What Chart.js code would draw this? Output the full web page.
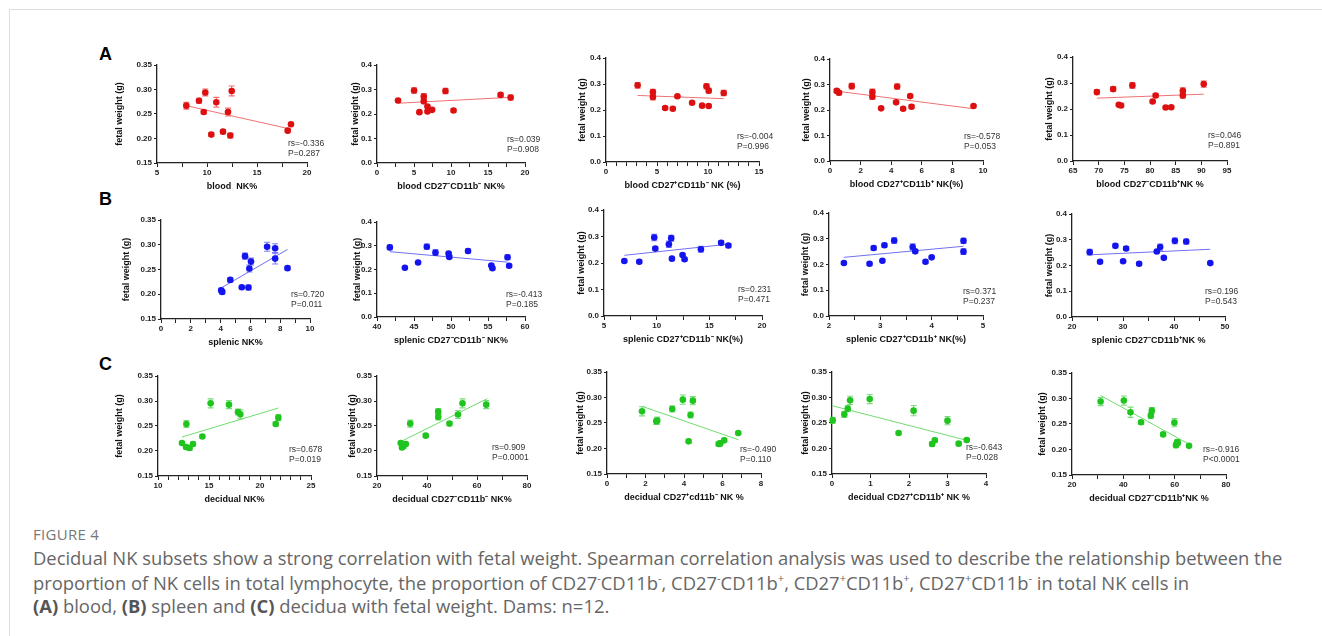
<!DOCTYPE html>
<html>
<head>
<meta charset="utf-8">
<script src="https://cdn.jsdelivr.net/npm/chart.js@4.4.1/dist/chart.umd.min.js"></script>
<style>
  html, body { margin: 0; padding: 0; background: #fff; }
  body { width: 1322px; height: 636px; position: relative; overflow: hidden; font-family: "Liberation Sans", Arial, sans-serif; }
  .rule-top  { position: absolute; left: 9px; top: 9px; right: 0; border-top: 1px solid #dedede; }
  .rule-left { position: absolute; left: 9px; top: 9px; bottom: 0; border-left: 1px solid #dedede; }
  canvas { position: absolute; }
  .letter { position: absolute; font: bold 18px "Liberation Sans", Arial, sans-serif; line-height: 18px; color: #000; }
  .stat { position: absolute; font: 8.5px "Liberation Sans", Arial, sans-serif; line-height: 10px; color: #333; white-space: nowrap; }
  .fig { position: absolute; left: 33px; font: 15px "Open Sans", sans-serif; letter-spacing: 0.3px; line-height: 20px; color: #777; }
  .cap { position: absolute; left: 33px; font: 18.4px "Open Sans", sans-serif; line-height: 24px; color: #666; white-space: nowrap; }
  .cap b { color: #555; }
  .cap sup { font-size: 0.6em; line-height: 0; vertical-align: 0.7em; }
</style>
</head>
<body>
<div class="rule-top"></div>
<div class="rule-left"></div>
<div class="letter" style="left:99px;top:45px">A</div>
<div class="letter" style="left:99px;top:190px">B</div>
<div class="letter" style="left:99px;top:355px">C</div>

<div class="fig" style="top:524px">FIGURE 4</div>
<div class="cap" style="top:546px">Decidual NK subsets show a strong correlation with fetal weight. Spearman correlation analysis was used to describe the relationship between the</div>
<div class="cap" style="top:571px">proportion of NK cells in total lymphocyte, the proportion of CD27<sup>-</sup>CD11b<sup>-</sup>, CD27<sup>-</sup>CD11b<sup>+</sup>, CD27<sup>+</sup>CD11b<sup>+</sup>, CD27<sup>+</sup>CD11b<sup>-</sup> in total NK cells in</div>
<div class="cap" style="top:594px"><b>(A)</b> blood, <b>(B)</b> spleen and <b>(C)</b> decidua with fetal weight. Dams: n=12.</div>

<script>
// ---- row A: blood ----
const xA1 = [7.93, 9.2, 9.67, 9.83, 10.43, 10.93, 11.6, 12.1, 12.33, 12.47, 18.07, 18.4]
const yA1 = [0.267, 0.277, 0.254, 0.294, 0.208, 0.274, 0.214, 0.254, 0.206, 0.297, 0.216, 0.229]
const eA1 = [0.007, 0.005, 0.004, 0.007, 0.004, 0.01, 0.004, 0.008, 0.005, 0.01, 0.003, 0.003]
const fitA1 = [[7.93, 0.267], [18.4, 0.219]]

const xA2 = [2.84, 5.01, 5.73, 6.32, 6.32, 6.82, 6.82, 7.45, 9.25, 10.34, 16.7, 18.06]
const yA2 = [0.255, 0.296, 0.2075, 0.271, 0.252, 0.2305, 0.21, 0.217, 0.294, 0.214, 0.278, 0.267]
const eA2 = [0.006, 0.011, 0.006, 0.012, 0.01, 0.004, 0.005, 0.004, 0.011, 0.006, 0.008, 0.01]
const fitA2 = [[2.84, 0.244], [18.06, 0.268]]

const xA3 = [3.1, 4.6, 4.6, 5.8, 6.55, 7.0, 8.44, 9.42, 9.85, 10.07, 10.07, 11.54]
const yA3 = [0.295, 0.269, 0.25, 0.2077, 0.205, 0.2526, 0.228, 0.2167, 0.291, 0.2744, 0.2154, 0.2654]
const eA3 = [0.011, 0.011, 0.011, 0.005, 0.005, 0.004, 0.004, 0.004, 0.01, 0.009, 0.006, 0.01]
const fitA3 = [[3.1, 0.256], [11.54, 0.2436]]

const xA4 = [0.44, 0.59, 1.42, 2.77, 2.77, 3.34, 4.32, 4.39, 4.78, 5.24, 5.33, 9.38]
const yA4 = [0.275, 0.2675, 0.2935, 0.27, 0.252, 0.2065, 0.23, 0.292, 0.205, 0.2545, 0.213, 0.2155]
const eA4 = [0.007, 0.008, 0.011, 0.012, 0.011, 0.005, 0.005, 0.01, 0.006, 0.006, 0.007, 0.004]
const fitA4 = [[0.44, 0.274], [9.38, 0.205]]

const xA5 = [69.65, 72.82, 73.92, 74.37, 76.57, 80.51, 81.1, 83.04, 84.14, 86.4, 86.4, 90.47]
const yA5 = [0.265, 0.2765, 0.216, 0.2135, 0.2907, 0.229, 0.252, 0.2058, 0.207, 0.27, 0.252, 0.2958]
const eA5 = [0.01, 0.009, 0.004, 0.006, 0.011, 0.005, 0.007, 0.005, 0.005, 0.012, 0.01, 0.012]
const fitA5 = [[69.65, 0.2418], [90.47, 0.257]]

// ---- row B: spleen ----
const xB1 = [4.04, 4.11, 4.65, 5.42, 5.64, 5.87, 5.93, 6.04, 7.12, 7.66, 7.66, 8.49]
const yB1 = [0.2081, 0.2047, 0.229, 0.2142, 0.277, 0.2135, 0.252, 0.266, 0.296, 0.293, 0.272, 0.2527]
const eB1 = [0.004, 0.004, 0.004, 0.003, 0.006, 0.005, 0.007, 0.007, 0.009, 0.009, 0.011, 0.004]
const fitB1 = [[4.04, 0.2128], [8.49, 0.2905]]

const xB2 = [41.73, 43.77, 45.55, 46.73, 47.9, 49.68, 49.77, 52.3, 55.45, 55.6, 57.64, 57.86]
const yB2 = [0.293, 0.2075, 0.2296, 0.296, 0.271, 0.267, 0.253, 0.278, 0.217, 0.205, 0.2517, 0.216]
const eB2 = [0.01, 0.005, 0.004, 0.011, 0.012, 0.007, 0.006, 0.008, 0.005, 0.006, 0.01, 0.006]
const fitB2 = [[41.73, 0.275], [57.64, 0.231]]

const xB3 = [6.93, 8.35, 9.77, 9.87, 11.16, 11.38, 11.45, 12.46, 12.65, 14.2, 16.12, 16.81]
const yB3 = [0.2076, 0.205, 0.296, 0.2544, 0.271, 0.2937, 0.2165, 0.2304, 0.214, 0.252, 0.276, 0.2658]
const eB3 = [0.005, 0.006, 0.012, 0.007, 0.012, 0.011, 0.004, 0.005, 0.006, 0.011, 0.008, 0.008]
const fitB3 = [[6.93, 0.229], [16.81, 0.271]]

const xB4 = [2.29, 2.79, 2.87, 3.04, 3.08, 3.27, 3.63, 3.68, 3.88, 4.0, 4.62, 4.62]
const yB4 = [0.2056, 0.203, 0.264, 0.2147, 0.2747, 0.293, 0.268, 0.251, 0.2106, 0.2278, 0.2918, 0.25]
const eB4 = [0.005, 0.007, 0.008, 0.004, 0.008, 0.011, 0.012, 0.007, 0.006, 0.004, 0.01, 0.011]
const fitB4 = [[2.29, 0.2278], [4.62, 0.2708]]

const xB5 = [23.47, 25.5, 28.51, 30.02, 30.61, 33.16, 36.63, 37.29, 38.01, 40.17, 42.4, 47.11]
const yB5 = [0.2519, 0.2144, 0.2763, 0.2167, 0.266, 0.2067, 0.2545, 0.2714, 0.2298, 0.2957, 0.293, 0.2093]
const eB5 = [0.011, 0.006, 0.008, 0.004, 0.008, 0.006, 0.006, 0.012, 0.005, 0.011, 0.01, 0.005]
const fitB5 = [[23.47, 0.2415], [47.11, 0.263]]

// ---- row C: decidua ----
const xC1 = [12.35, 12.75, 12.78, 13.1, 13.43, 14.35, 15.16, 16.96, 17.84, 18.07, 21.54, 21.8]
const yC1 = [0.216, 0.208, 0.254, 0.206, 0.214, 0.229, 0.2953, 0.2927, 0.278, 0.2733, 0.254, 0.2667]
const eC1 = [0.003, 0.004, 0.007, 0.005, 0.004, 0.003, 0.009, 0.008, 0.006, 0.009, 0.004, 0.006]
const fitC1 = [[12.35, 0.228], [21.8, 0.286]]

const xC2 = [29.5, 30.0, 30.6, 31.5, 33.3, 39.5, 44.5, 44.5, 49.0, 52.4, 54.2, 63.7]
const yC2 = [0.216, 0.207, 0.21, 0.214, 0.2548, 0.2307, 0.268, 0.2787, 0.2548, 0.273, 0.2953, 0.2927]
const eC2 = [0.003, 0.004, 0.005, 0.004, 0.007, 0.003, 0.006, 0.006, 0.004, 0.008, 0.009, 0.008]
const fitC2 = [[30.0, 0.22], [64.1, 0.3047]]

const xC3 = [1.82, 2.56, 2.61, 3.39, 3.94, 4.24, 4.34, 4.46, 5.8, 5.88, 6.09, 6.82]
const yC3 = [0.2729, 0.2533, 0.2546, 0.2775, 0.2958, 0.214, 0.2657, 0.2938, 0.2088, 0.21, 0.216, 0.2304]
const eC3 = [0.009, 0.006, 0.007, 0.006, 0.009, 0.004, 0.006, 0.008, 0.004, 0.005, 0.003, 0.003]
const fitC3 = [[1.82, 0.2827], [6.82, 0.2173]]

const xC4 = [0.02, 0.32, 0.41, 0.47, 0.98, 1.73, 2.12, 2.6, 2.67, 3.0, 3.29, 3.5]
const yC4 = [0.2552, 0.267, 0.278, 0.2944, 0.297, 0.2304, 0.2742, 0.2088, 0.216, 0.2546, 0.2095, 0.2165]
const eC4 = [0.006, 0.006, 0.006, 0.008, 0.009, 0.003, 0.01, 0.005, 0.004, 0.008, 0.004, 0.003]
const fitC4 = [[0.0, 0.284], [3.5, 0.216]]

const xC5 = [31.14, 40.2, 42.8, 46.9, 50.7, 51.1, 55.5, 59.9, 60.5, 61.0, 61.2, 65.6]
const yC5 = [0.2941, 0.296, 0.273, 0.2533, 0.2664, 0.2763, 0.2296, 0.2526, 0.2085, 0.2145, 0.213, 0.2072]
const eC5 = [0.008, 0.009, 0.01, 0.004, 0.006, 0.006, 0.003, 0.008, 0.005, 0.004, 0.005, 0.003]
const fitC5 = [[31.14, 0.3059], [65.6, 0.2105]]

// x axis titles and Spearman results
const titles = [
  "blood  NK%", "blood CD27⁻CD11b⁻ NK%", "blood CD27⁺CD11b⁻ NK (%)", "blood CD27⁺CD11b⁺ NK(%)", "blood CD27⁻CD11b⁺NK %",
  "splenic NK%", "splenic CD27⁻CD11b⁻ NK%", "splenic CD27⁺CD11b⁻ NK(%)", "splenic CD27⁺CD11b⁺ NK(%)", "splenic CD27⁻CD11b⁺NK %",
  "decidual NK%", "decidual CD27⁻CD11b⁻ NK%", "decidual CD27⁺cd11b⁻ NK %", "decidual CD27⁺CD11b⁺ NK %", "decidual CD27⁻CD11b⁺NK %"
]
const rsVals = ["-0.336", "0.039", "-0.004", "-0.578", "0.046", "0.720", "-0.413", "0.231", "0.371", "0.196", "0.678", "0.909", "-0.490", "-0.643", "-0.916"]
const pVals = ["=0.287", "=0.908", "=0.996", "=0.053", "=0.891", "=0.011", "=0.185", "=0.471", "=0.237", "=0.543", "=0.019", "=0.0001", "=0.110", "=0.028", "<0.0001"]

const series = [
  [xA1, yA1, eA1, fitA1], [xA2, yA2, eA2, fitA2], [xA3, yA3, eA3, fitA3], [xA4, yA4, eA4, fitA4], [xA5, yA5, eA5, fitA5],
  [xB1, yB1, eB1, fitB1], [xB2, yB2, eB2, fitB2], [xB3, yB3, eB3, fitB3], [xB4, yB4, eB4, fitB4], [xB5, yB5, eB5, fitB5],
  [xC1, yC1, eC1, fitC1], [xC2, yC2, eC2, fitC2], [xC3, yC3, eC3, fitC3], [xC4, yC4, eC4, fitC4], [xC5, yC5, eC5, fitC5]
]

// layout: plot box [left, top, right, bottom] on the page, x range [min, max, major, minor],
// y range [min, max, step], y title distance from axis, stats text position
const layout = [
  { box: [157, 65, 307, 163], xr: [5, 20, 5, 2.5], yr: [0.15, 0.35, 0.05], gap: 38, st: [288, 138] },
  { box: [377, 65, 525, 163], xr: [0, 20, 5, 2.5], yr: [0, 0.4, 0.1], gap: 22, st: [507, 134] },
  { box: [606, 58, 759, 162], xr: [0, 15, 5, 1], yr: [0, 0.4, 0.1], gap: 24, st: [737, 131] },
  { box: [830, 59, 983, 161], xr: [0, 10, 2, 2], yr: [0, 0.4, 0.1], gap: 23.5, st: [964, 131] },
  { box: [1073, 57, 1227, 161], xr: [65, 95, 5, 5], yr: [0, 0.4, 0.1], gap: 24, st: [1208, 130] },
  { box: [161, 220, 310, 319], xr: [0, 10, 2, 1], yr: [0.15, 0.35, 0.05], gap: 35, st: [291, 289] },
  { box: [377, 222, 525, 317], xr: [40, 60, 5, 2.5], yr: [0, 0.4, 0.1], gap: 20, st: [506, 289] },
  { box: [604, 210, 762, 316], xr: [5, 20, 5, 2.5], yr: [0, 0.4, 0.1], gap: 23, st: [738, 284] },
  { box: [829, 213, 983, 316], xr: [2, 5, 1, 0.5], yr: [0, 0.4, 0.1], gap: 23.5, st: [963, 286] },
  { box: [1072, 214, 1225, 317], xr: [20, 50, 10, 5], yr: [0, 0.4, 0.1], gap: 23, st: [1205, 286] },
  { box: [158, 376, 311, 476], xr: [10, 25, 5, 1], yr: [0.15, 0.35, 0.05], gap: 39, st: [289, 444] },
  { box: [377, 376, 527, 476], xr: [20, 80, 20, 10], yr: [0.15, 0.35, 0.05], gap: 25, st: [492, 442] },
  { box: [607, 372, 761, 474], xr: [0, 8, 2, 1], yr: [0.15, 0.35, 0.05], gap: 26.5, st: [740, 444] },
  { box: [832, 372, 986, 474], xr: [0, 4, 1, 1], yr: [0.15, 0.35, 0.05], gap: 26.5, st: [966, 442] },
  { box: [1072, 373, 1226, 475], xr: [20, 80, 20, 10], yr: [0.15, 0.35, 0.05], gap: 30, st: [1203, 444] }
]

const palette = [
  { dot: "#dc1010", err: "rgba(236, 96, 96, 0.9)", line: "#ef7272" },   // blood
  { dot: "#1414ee", err: "rgba(110, 110, 255, 0.9)", line: "#7070f4" },  // spleen
  { dot: "#1fc41f", err: "rgba(110, 215, 110, 0.9)", line: "#70dc70" }   // decidua
]

const AXIS = "#222"
const PAD_TOP = 8, PAD_RIGHT = 12, X_H = 30

// vertical SEM bars with caps, drawn behind the dots
const errorBars = {
  id: "errorBars",
  beforeDatasetsDraw(chart) {
    const { ctx, scales: { x, y } } = chart
    chart.data.datasets.forEach((ds) => {
      if (!ds.errors) return
      ctx.save()
      ctx.strokeStyle = ds.errorColor
      ctx.lineWidth = 1.1
      ds.data.forEach((p, i) => {
        const px = x.getPixelForValue(p.x)
        const lo = y.getPixelForValue(p.y - ds.errors[i])
        const hi = y.getPixelForValue(p.y + ds.errors[i])
        ctx.beginPath()
        ctx.moveTo(px, lo); ctx.lineTo(px, hi)
        ctx.moveTo(px - 3, lo); ctx.lineTo(px + 3, lo)
        ctx.moveTo(px - 3, hi); ctx.lineTo(px + 3, hi)
        ctx.stroke()
      })
      ctx.restore()
    })
  }
}

const near = (v, step) => Math.abs(v / step - Math.round(v / step)) < 1e-6

series.forEach(([xs, ys, errs, fit], i) => {
  const L = layout[i]
  const col = palette[Math.floor(i / 5)]
  const [bl, bt, br, bb] = L.box
  const yW = Math.round(L.gap + 5.4)
  const w = yW + (br - bl) + PAD_RIGHT
  const h = PAD_TOP + (bb - bt) + X_H

  const cv = document.createElement("canvas")
  cv.width = w; cv.height = h
  cv.style.left = (bl - yW) + "px"
  cv.style.top = (bt - PAD_TOP) + "px"
  cv.style.width = w + "px"; cv.style.height = h + "px"
  document.body.appendChild(cv)

  const [xmin, xmax, xmaj, xmin2] = L.xr
  const [ymin, ymax, ystep] = L.yr
  const ydec = ystep < 0.1 ? 2 : 1

  new Chart(cv, {
    type: "scatter",
    data: {
      datasets: [
        {
          type: "line",
          data: fit.map(([x, y]) => ({ x, y })),
          borderColor: col.line,
          borderWidth: 1,
          pointRadius: 0,
          clip: false,
          order: 2
        },
        {
          data: xs.map((x, k) => ({ x, y: ys[k] })),
          errors: errs,
          errorColor: col.err,
          backgroundColor: col.dot,
          borderWidth: 0,
          pointRadius: 3.3,
          clip: false,
          order: 1
        }
      ]
    },
    options: {
      responsive: false,
      animation: false,
      events: [],
      layout: { padding: { top: PAD_TOP, right: PAD_RIGHT, left: 0, bottom: 0 } },
      plugins: { legend: { display: false }, tooltip: { enabled: false } },
      scales: {
        x: {
          type: "linear",
          min: xmin, max: xmax,
          afterFit: (s) => { s.height = X_H },
          afterBuildTicks: (s) => {
            const t = []
            for (let v = xmin; v <= xmax + 1e-9; v += xmin2) t.push({ value: +v.toFixed(4) })
            s.ticks = t
          },
          ticks: {
            autoSkip: false, maxRotation: 0, padding: 1, color: AXIS,
            font: { family: "Liberation Sans", size: 8, weight: "bold" },
            callback: (v) => near(v, xmaj) ? String(+v.toFixed(2)) : ""
          },
          grid: { drawOnChartArea: false, tickLength: 4, color: AXIS, tickWidth: 1 },
          border: { color: AXIS, width: 1.3 },
          title: {
            display: true, text: titles[i], color: "#111",
            font: { family: "Liberation Sans", size: 9, weight: "bold" },
            padding: { top: 0, bottom: 1 }
          }
        },
        y: {
          min: ymin, max: ymax,
          afterFit: (s) => { s.width = yW },
          afterBuildTicks: (s) => {
            const t = []
            for (let v = ymin; v <= ymax + 1e-9; v += ystep) t.push({ value: +v.toFixed(4) })
            s.ticks = t
          },
          ticks: {
            padding: 2, color: AXIS,
            font: { family: "Liberation Sans", size: 8, weight: "bold" },
            callback: (v) => v.toFixed(ydec)
          },
          grid: { drawOnChartArea: false, tickLength: 3, color: AXIS, tickWidth: 1 },
          border: { color: AXIS, width: 1.3 },
          title: {
            display: true, text: "fetal weight (g)", color: "#111",
            font: { family: "Liberation Sans", size: 9, weight: "bold" },
            padding: 0
          }
        }
      }
    },
    plugins: [errorBars]
  })

  const st = document.createElement("div")
  st.className = "stat"
  st.style.left = L.st[0] + "px"
  st.style.top = L.st[1] + "px"
  st.innerHTML = "rs=" + rsVals[i] + "<br>P" + pVals[i]
  document.body.appendChild(st)
})
</script>
</body>
</html>
